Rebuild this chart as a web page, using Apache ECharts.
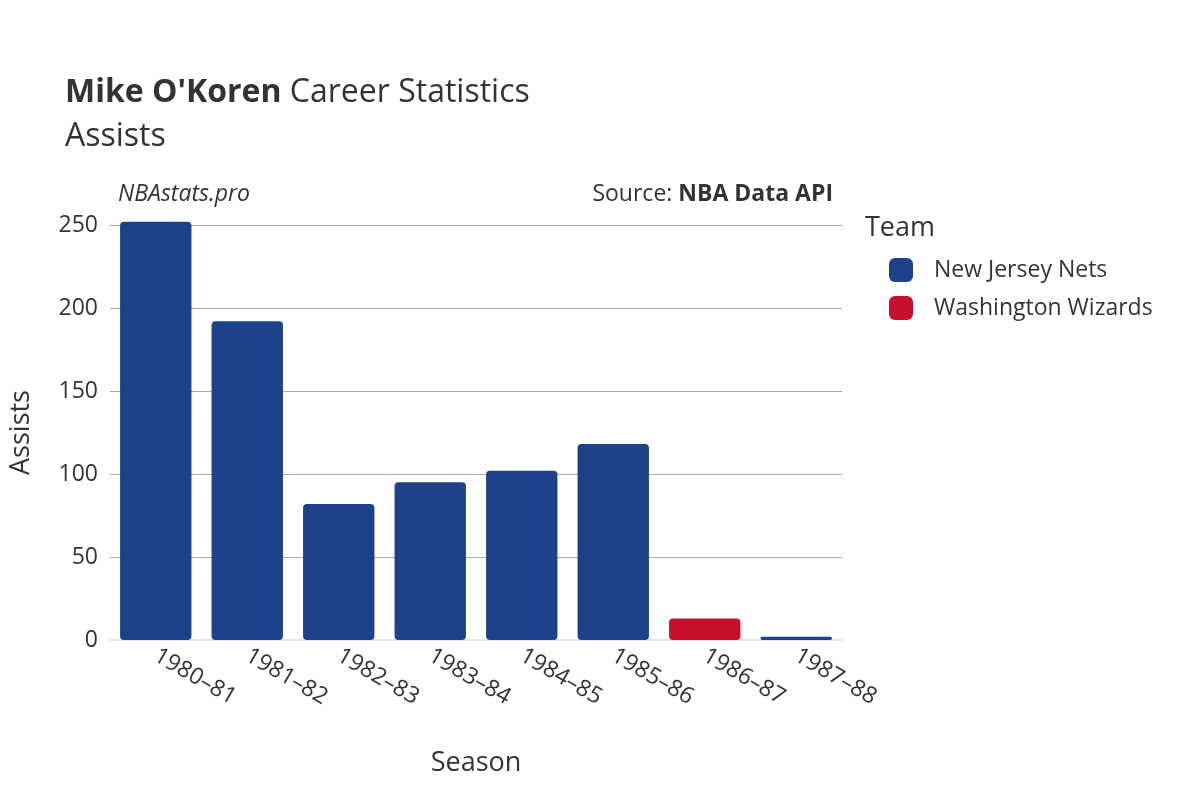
<!DOCTYPE html>
<html>
<head>
<meta charset="utf-8">
<script src="https://cdn.jsdelivr.net/npm/echarts@6/dist/echarts.min.js"></script>
<style>html,body{margin:0;padding:0;background:#fff}#main{width:1200px;height:800px}</style>
</head>
<body>
<div id="main"></div>
<script>
// season labels and assists per team
var seasons = ['1980–81', '1981–82', '1982–83', '1983–84', '1984–85', '1985–86', '1986–87', '1987–88'];
var netsAssists = [252, 192, 82, 95, 102, 118, null, 2];
var wizardsAssists = [null, null, null, null, null, null, 13, null];
var yTicks = [0, 50, 100, 150, 200, 250];

var myChart = echarts.init(document.getElementById('main'));
var font = '"Open Sans", "Noto Sans", sans-serif';

var option = {
    backgroundColor: '#fff',
    textStyle: { fontFamily: font },
    title: [
        {
            text: "{b|Mike O'Koren} Career Statistics\nAssists",
            left: 60, top: 66,
            textStyle: {
                fontFamily: font, fontSize: 32, fontWeight: 'normal', color: '#333', lineHeight: 44,
                rich: { b: { fontFamily: font, fontSize: 32, fontWeight: 'bold', color: '#333' } }
            }
        },
        { text: 'NBAstats.pro', left: 113, top: 178, textStyle: { fontFamily: font, fontSize: 23, fontStyle: 'italic', fontWeight: 'normal', color: '#333' } },
        {
            text: 'Source: {b|NBA Data API}', right: 362, top: 178,
            textStyle: { fontFamily: font, fontSize: 23, fontWeight: 'normal', color: '#333',
                rich: { b: { fontFamily: font, fontSize: 23, fontWeight: 'bold', color: '#333' } } }
        },
        { text: 'Team', left: 860, top: 210, textStyle: { fontFamily: font, fontSize: 27, fontWeight: 'normal', color: '#333' } }
    ],
    legend: {
        orient: 'vertical', left: 884, top: 253, itemGap: 14,
        itemWidth: 24, itemHeight: 24, icon: 'roundRect',
        textStyle: { fontFamily: font, fontSize: 23, color: '#333', padding: [0, 0, 0, 16] },
        data: ['New Jersey Nets', 'Washington Wizards']
    },
    grid: { left: 108, right: 358, top: 225, bottom: 160 },
    xAxis: {
        type: 'category', data: seasons,
        name: 'Season', nameLocation: 'middle', nameGap: 110,
        nameTextStyle: { fontFamily: font, fontSize: 27, color: '#333' },
        axisLine: { lineStyle: { color: '#e5e5e5', width: 2 } },
        axisTick: { show: false },
        axisLabel: { rotate: -30, fontSize: 23, color: '#333', fontFamily: font, margin: 14, align: 'left' }
    },
    yAxis: {
        type: 'value', min: 0, max: 250, interval: 50,
        name: 'Assists', nameLocation: 'middle', nameGap: 75,
        nameTextStyle: { fontFamily: font, fontSize: 27, color: '#333' },
        axisLine: { show: false }, axisTick: { show: false },
        axisLabel: { fontSize: 23, color: '#333', fontFamily: font, margin: 12 },
        splitLine: { lineStyle: { color: '#aaa', width: 1 } }
    },
    series: [
        { name: 'New Jersey Nets', type: 'bar', stack: 'a', data: netsAssists, clip: false,
          barCategoryGap: '22%', itemStyle: { color: '#1d428a', borderRadius: 4 } },
        { name: 'Washington Wizards', type: 'bar', stack: 'a', data: wizardsAssists, clip: false,
          barCategoryGap: '22%', itemStyle: { color: '#c8102e', borderRadius: 4 } }
    ]
};

myChart.setOption(option);
</script>
</body>
</html>
